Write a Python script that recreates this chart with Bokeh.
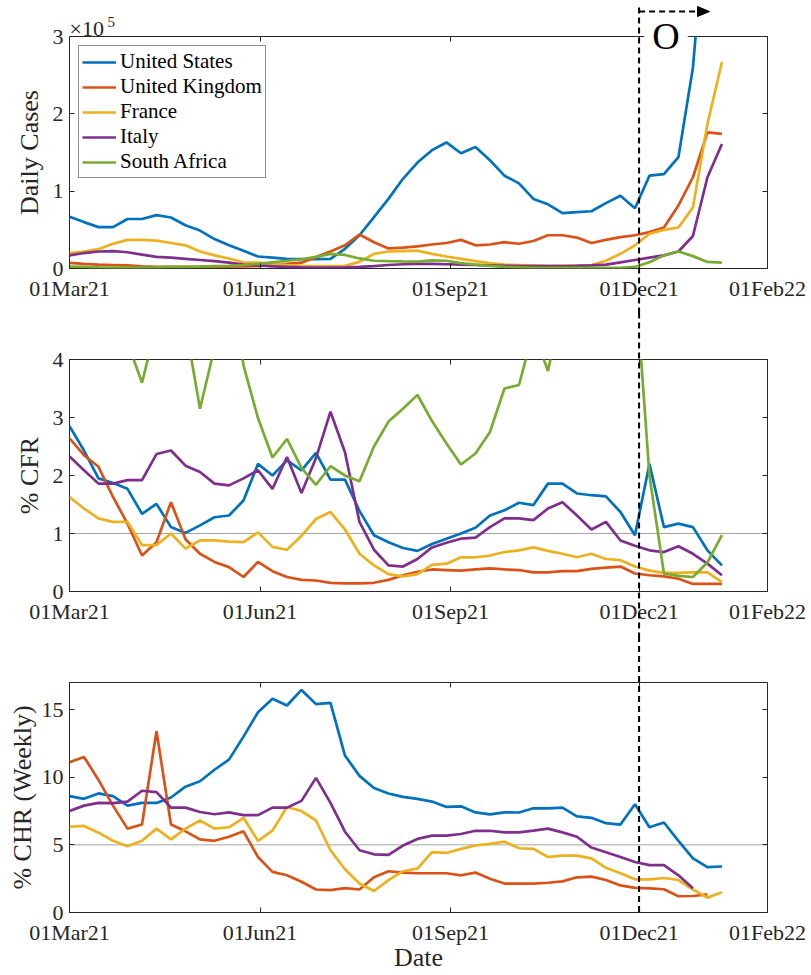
import numpy as np
import pandas as pd
from bokeh.plotting import figure
from bokeh.layouts import column
from bokeh.core.properties import value
from bokeh.models import (Range1d, FixedTicker, DatetimeTickFormatter, DatetimeAxis,
                          LinearAxis, Span)
from bokeh.embed import file_html
from bokeh.resources import INLINE

nan = float("nan")

# ---------------- data ----------------
dates = pd.date_range("2021-03-01", periods=46, freq="7D")
countries = ["United States", "United Kingdom", "France", "Italy", "South Africa"]
colors = ["#0072BD", "#D95319", "#EDB120", "#7E2F8E", "#77AC30"]
x_ticks = ["2021-03-01", "2021-06-01", "2021-09-01", "2021-12-01", "2022-02-01"]
x_start, x_end = "2021-03-01", "2022-02-01"
omicron_date = "2021-12-01"
omicron_arrow_end = "2022-01-04"
omicron_label_date = "2021-12-14"
omicron_label = "O"

cases_y_ticks = [0, 1, 2, 3]
cfr_y_ticks = [0, 1, 2, 3, 4]
chr_y_ticks = [0, 5, 10, 15]

# Daily cases
cases_us = [67000, 60000, 53500, 53500, 64000, 64000, 69000, 66000, 56000, 49000,
            38000, 30000, 23000, 15500, 14000, 12500, 12000, 12000, 12500, 25500,
            43000, 66500, 90000, 116000, 137000, 153000, 163000, 149000, 157000, 140000,
            120000, 110000, 90000, 83000, 71500, 73000, 74000, 84500, 94000, 78000,
            120000, 122000, 144000, 260000, 480000, 700000]
cases_uk = [7300, 6000, 5000, 4500, 4000, 2700, 2200, 2000, 2000, 2000,
            2200, 2500, 2800, 3000, 4500, 6000, 7500, 14700, 22000, 30000,
            44000, 34000, 26000, 27000, 28500, 31000, 33000, 37000, 30000, 31000,
            34000, 32000, 35500, 43000, 43000, 40000, 33000, 37000, 40500, 43000,
            47000, 53000, 81500, 118000, 176000, 174000]
cases_fr = [20000, 22000, 25000, 32000, 37000, 37000, 36000, 33000, 30000, 22000,
            17000, 13000, 8000, 7500, 6000, 4500, 3500, 3000, 3000, 3500,
            8500, 19000, 22000, 22500, 23000, 19000, 15500, 12500, 9500, 7000,
            5000, 4500, 4000, 3500, 3500, 4000, 4500, 10000, 19000, 30000,
            45000, 50000, 53000, 79000, 187000, 267000]
cases_it = [17000, 20000, 22000, 22500, 21000, 18000, 15000, 14000, 12500, 11000,
            9500, 7500, 5000, 4000, 2800, 2000, 1500, 1200, 1200, 1500,
            2000, 3000, 4500, 5500, 6000, 6000, 5500, 5000, 4500, 4000,
            3500, 3000, 3000, 3000, 3200, 3500, 4000, 5000, 8000, 11000,
            14000, 17000, 22000, 42000, 118000, 161000]
cases_za = [2500, 2000, 1500, 1200, 1200, 1200, 1500, 2000, 2200, 2500,
            3000, 3500, 4500, 6000, 8000, 10000, 12000, 15000, 19000, 17500,
            13000, 10000, 9500, 9200, 9000, 10500, 10000, 7000, 5000, 3500,
            2000, 1500, 1000, 1000, 800, 700, 800, 1000, 1000, 2000,
            8000, 17000, 22000, 16000, 8500, 7500]

# % CFR
cfr_us = [2.85, 2.43, 1.95, 1.87, 1.77, 1.34, 1.51, 1.11, 1.01, 1.14,
          1.28, 1.31, 1.57, 2.2, 2.0, 2.26, 2.09, 2.39, 1.93, 1.93,
          1.39, 0.97, 0.85, 0.75, 0.70, 0.82, 0.91, 1.0, 1.1, 1.31,
          1.40, 1.53, 1.49, 1.86, 1.86, 1.69, 1.66, 1.64, 1.37, 0.97,
          2.2, 1.11, 1.17, 1.11, 0.71, 0.45]
cfr_uk = [2.64, 2.35, 2.15, 1.63, 1.17, 0.62, 0.85, 1.54, 0.9, 0.65,
          0.51, 0.42, 0.25, 0.51, 0.35, 0.25, 0.2, 0.19, 0.15, 0.14,
          0.14, 0.15, 0.2, 0.28, 0.34, 0.38, 0.37, 0.36, 0.38, 0.4,
          0.38, 0.37, 0.33, 0.33, 0.35, 0.35, 0.39, 0.41, 0.43, 0.31,
          0.28, 0.26, 0.22, 0.13, 0.13, 0.13]
cfr_fr = [1.63, 1.43, 1.26, 1.2, 1.2, 0.8, 0.8, 1.0, 0.74, 0.88,
          0.88, 0.86, 0.85, 1.02, 0.77, 0.72, 0.96, 1.25, 1.37, 1.07,
          0.65, 0.45, 0.3, 0.26, 0.3, 0.46, 0.48, 0.59, 0.59, 0.62,
          0.68, 0.71, 0.76, 0.70, 0.65, 0.59, 0.65, 0.56, 0.54, 0.43,
          0.36, 0.32, 0.32, 0.33, 0.33, 0.16]
cfr_it = [2.33, 2.09, 1.86, 1.86, 1.92, 1.92, 2.37, 2.43, 2.17, 2.06,
          1.86, 1.83, 1.95, 2.09, 1.77, 2.32, 1.7, 2.3, 3.1, 2.4,
          1.2, 0.72, 0.45, 0.43, 0.56, 0.76, 0.84, 0.91, 0.93, 1.11,
          1.26, 1.26, 1.23, 1.43, 1.54, 1.31, 1.07, 1.2, 0.88, 0.79,
          0.71, 0.68, 0.78, 0.65, 0.48, 0.28]
cfr_za = [6.0, 5.5, 5.0, 4.6, 4.3, 3.6, 4.6, 6.0, 4.6, 3.15,
          4.2, 5.5, 3.9, 2.99, 2.31, 2.63, 2.13, 1.84, 2.16, 2.0,
          1.9, 2.5, 2.93, 3.15, 3.39, 2.94, 2.55, 2.19, 2.38, 2.75,
          3.5, 3.56, 4.5, 3.8, 5.0, 6.0, 6.0, 6.0, 6.0, 5.5,
          2.0, 0.31, 0.27, 0.25, 0.5, 0.97]

# % CHR (weekly)
chr_us = [8.6, 8.4, 8.8, 8.6, 7.9, 8.1, 8.1, 8.5, 9.3, 9.7,
          10.55, 11.3, 13.0, 14.8, 15.8, 15.3, 16.45, 15.4, 15.5, 11.6,
          10.1, 9.2, 8.8, 8.55, 8.4, 8.2, 7.8, 7.85, 7.4, 7.25,
          7.4, 7.39, 7.7, 7.7, 7.75, 7.1, 7.0, 6.6, 6.5, 8.0,
          6.3, 6.65, 5.3, 4.0, 3.35, 3.4]
chr_uk = [11.1, 11.5, 9.8, 7.9, 6.2, 6.5, 13.4, 6.5, 6.0, 5.4,
          5.3, 5.6, 6.0, 4.1, 3.0, 2.75, 2.27, 1.7, 1.65, 1.8,
          1.7, 2.6, 3.05, 2.95, 2.9, 2.9, 2.9, 2.75, 2.95, 2.5,
          2.14, 2.14, 2.14, 2.2, 2.3, 2.6, 2.65, 2.4, 2.0, 1.82,
          1.78, 1.72, 1.2, 1.22, 1.34, nan]
chr_fr = [6.34, 6.4, 5.9, 5.3, 4.9, 5.3, 6.2, 5.4, 6.2, 6.8,
          6.2, 6.3, 7.0, 5.3, 6.05, 7.8, 7.5, 6.8, 4.6, 3.2,
          2.14, 1.59, 2.39, 3.05, 3.25, 4.46, 4.4, 4.7, 4.95, 5.07,
          5.24, 4.75, 4.7, 4.1, 4.2, 4.2, 4.0, 3.3, 2.9, 2.45,
          2.45, 2.55, 2.4, 1.7, 1.1, 1.5]
chr_it = [7.5, 7.9, 8.1, 8.08, 8.2, 9.0, 8.9, 7.75, 7.75, 7.43,
          7.26, 7.4, 7.2, 7.2, 7.75, 7.75, 8.25, 9.95, 8.1, 5.97,
          4.6, 4.3, 4.26, 4.95, 5.44, 5.68, 5.68, 5.8, 6.04, 6.04,
          5.92, 5.92, 6.05, 6.2, 5.92, 5.6, 4.8, 4.45, 4.1, 3.73,
          3.5, 3.5, 2.75, 1.8, nan, nan]

# ---------------- style ----------------
FONT = "Liberation Serif"
AX = "#262626"
W = 809
BL, BR = 69, 42
FRAME_W, FRAME_H = W - BL - BR, 232
LW = 2.7
DASH = "6 4"
TICK = 5


def ms(d):
    return pd.Timestamp(d).value / 1e6


x_range = Range1d(ms(x_start), ms(x_end))
ms_per_px = (ms(x_end) - ms(x_start)) / FRAME_W


def panel(height, border_top, border_bottom, y_max, y_ticks, y_label, label_standoff,
          x_label=None):
    p = figure(width=W, height=height, title=None, x_axis_type="datetime",
               x_range=x_range, y_range=Range1d(0, y_max),
               output_backend="svg", toolbar_location=None,
               min_border_left=BL, min_border_right=BR,
               min_border_top=border_top, min_border_bottom=border_bottom,
               background_fill_color="white", border_fill_color="white")
    p.grid.visible = False
    p.outline_line_color = AX
    p.outline_line_width = 1
    p.outline_line_alpha = 1
    fmt = DatetimeTickFormatter(days="%d%b%y", months="%d%b%y", years="%d%b%y",
                                strip_leading_zeros=False)
    xt = FixedTicker(ticks=[ms(d) for d in x_ticks])
    yt = FixedTicker(ticks=y_ticks)
    xa = p.xaxis[0]
    ya = p.yaxis[0]
    xa.ticker = xt
    xa.formatter = fmt
    ya.ticker = yt
    for ax in (xa, ya):
        ax.axis_line_color = None
        ax.major_tick_in = TICK
        ax.major_tick_out = 0
        ax.major_tick_line_color = AX
        ax.minor_tick_line_color = None
        ax.major_label_text_font = FONT
        ax.major_label_text_font_size = "22px"
        ax.major_label_text_color = AX
        ax.axis_label_text_font = FONT
        ax.axis_label_text_font_size = "26px"
        ax.axis_label_text_font_style = "normal"
        ax.axis_label_text_color = AX
    xa.major_label_standoff = 7
    ya.major_label_standoff = 6
    ya.axis_label = y_label
    ya.axis_label_standoff = label_standoff
    if x_label:
        xa.axis_label = x_label
        xa.axis_label_standoff = -5
    # mirrored tick marks (box on), without labels
    top = DatetimeAxis(ticker=xt, formatter=fmt, axis_line_color=None,
                       major_tick_in=TICK, major_tick_out=0, major_tick_line_color=AX,
                       minor_tick_line_color=None, major_label_text_color=None,
                       major_label_standoff=0)
    p.add_layout(top, "above")
    right = LinearAxis(ticker=yt, axis_line_color=None,
                       major_tick_in=TICK, major_tick_out=0, major_tick_line_color=AX,
                       minor_tick_line_color=None, major_label_text_color=None,
                       major_label_standoff=0)
    p.add_layout(right, "right")
    return p


def omicron_line(p, y_top, y_bottom):
    # dashed marker of the Omicron start, drawn on the overlay level so it
    # runs through the axis margins as in the original figure
    p.segment(x0=[ms(omicron_date)], y0=[y_top], x1=[ms(omicron_date)], y1=[y_bottom],
              line_color="black", line_width=2, line_dash=DASH, level="overlay")


# ---------------- panel 1: daily cases ----------------
CASES_MAX = 3
TOP1, BOT = 36, 45
p1 = panel(TOP1 + FRAME_H + BOT, TOP1, BOT, CASES_MAX, cases_y_ticks, "Daily Cases", 6)
for name, col, ser in zip(countries, colors, [cases_us, cases_uk, cases_fr, cases_it, cases_za]):
    p1.line(dates, np.array(ser, dtype=float) / 1e5, line_color=col, line_width=LW,
            legend_label=name)
lg = p1.legend[0]
lg.location = "top_left"
lg.margin = 9
lg.padding = 3
lg.spacing = 0
lg.label_text_font = FONT
lg.label_text_font_size = "21px"
lg.label_text_color = "black"
lg.glyph_width = 34
lg.glyph_height = 20
lg.label_height = 20
lg.label_standoff = 4
lg.border_line_color = AX
lg.border_line_width = 1
lg.background_fill_alpha = 1

u1 = CASES_MAX / FRAME_H          # data units per pixel in panel 1
# x10^5 exponent label above the axes
p1.text(x=[ms(x_start)], y=[CASES_MAX + 8 * u1], text=["×10"], text_font=value(FONT),
        text_font_size=value("22px"), text_color=AX, text_baseline="alphabetic",
        text_align="left", level="overlay")
p1.text(x=[ms(x_start)], y=[CASES_MAX + 15 * u1], text=["5"], text_font=value(FONT),
        text_font_size=value("15px"), text_color=AX, text_baseline="alphabetic",
        text_align="left", x_offset=38, level="overlay")
# Omicron label with white box breaking the axes' top edge
p1.text(x=[ms(omicron_label_date)], y=[CASES_MAX + 1 * u1], text=[omicron_label],
        text_font=value(FONT), text_font_size=value("38px"), text_color="black",
        text_baseline="middle", text_align="center", background_fill_color="white",
        padding=8, level="overlay")
# dashed arrow to the right
arrow_y = CASES_MAX + 25 * u1
tip = ms(omicron_arrow_end)
head_len, head_half = 12 * ms_per_px, 5 * u1
p1.segment(x0=[ms(omicron_date)], y0=[arrow_y], x1=[tip - head_len], y1=[arrow_y],
           line_color="black", line_width=2, line_dash=DASH, level="overlay")
p1.patch(x=[tip, tip - head_len, tip - head_len],
         y=[arrow_y, arrow_y + head_half, arrow_y - head_half],
         fill_color="black", line_color="black", line_width=1, level="overlay")
omicron_line(p1, CASES_MAX + 29 * u1, -BOT * u1 - 1)

# ---------------- panel 2: CFR ----------------
CFR_MAX = 4
u2 = CFR_MAX / FRAME_H
p2 = panel(46 + FRAME_H + BOT, 46, BOT, CFR_MAX, cfr_y_ticks, "% CFR", 6)
p2.add_layout(Span(location=1, dimension="width", line_color="#a6a6a6", line_width=1,
                   level="underlay"))
for col, ser in zip(colors, [cfr_us, cfr_uk, cfr_fr, cfr_it, cfr_za]):
    p2.line(dates, ser, line_color=col, line_width=LW)
omicron_line(p2, CFR_MAX + 47 * u2, -BOT * u2 - 1)

# ---------------- panel 3: CHR ----------------
CHR_MAX = 17
u3 = CHR_MAX / FRAME_H
p3 = panel(46 + FRAME_H + 60, 46, 60, CHR_MAX, chr_y_ticks, "% CHR (Weekly)", 2, x_label="Date")
p3.add_layout(Span(location=5, dimension="width", line_color="#a6a6a6", line_width=1,
                   level="underlay"))
for col, ser in zip(colors[:4], [chr_us, chr_uk, chr_fr, chr_it]):
    p3.line(dates, ser, line_color=col, line_width=LW)
omicron_line(p3, CHR_MAX + 47 * u3, 0)

layout = column(p1, p2, p3)
open("out.html", "w").write(file_html(layout, INLINE))
